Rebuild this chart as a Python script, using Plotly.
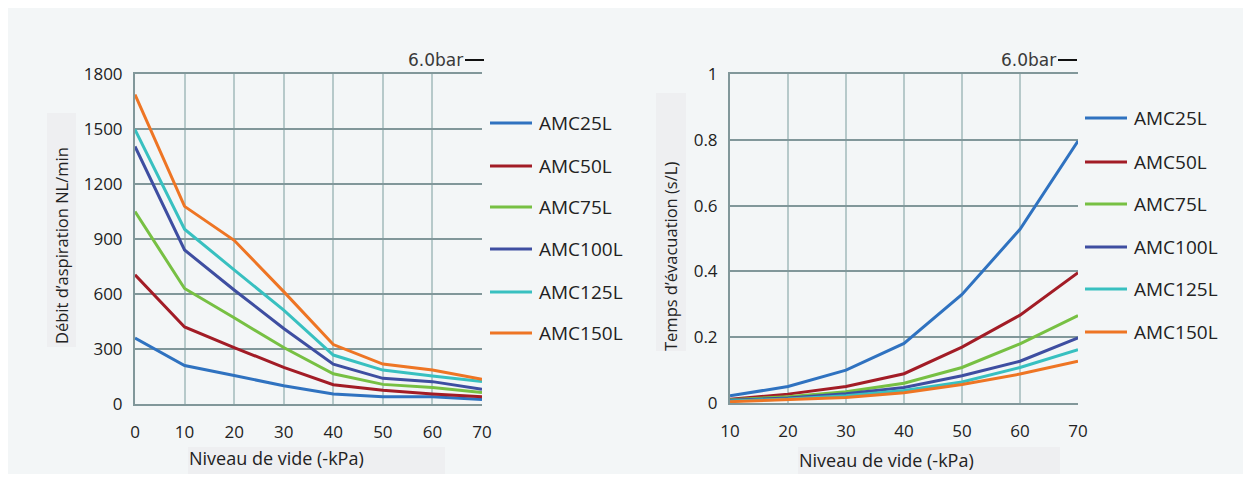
import plotly.graph_objects as go

# ---------------- data ----------------
series_names = ["AMC25L", "AMC50L", "AMC75L", "AMC100L", "AMC125L", "AMC150L"]
series_colors = ["#2f72c0", "#a21c26", "#77c043", "#3e4ea1", "#38c0c0", "#ee7524"]

vacuum_flow = [0, 10, 20, 30, 40, 50, 60, 70]
flow_amc25 = [360, 210, 155, 100, 55, 40, 40, 25]
flow_amc50 = [705, 420, 308, 200, 105, 75, 55, 40]
flow_amc75 = [1050, 630, 470, 308, 165, 107, 90, 63]
flow_amc100 = [1405, 840, 622, 412, 217, 140, 122, 80]
flow_amc125 = [1497, 953, 732, 512, 267, 185, 153, 122]
flow_amc150 = [1688, 1078, 893, 613, 324, 218, 185, 135]

vacuum_time = [10, 20, 30, 40, 50, 60, 70]
time_amc25 = [0.022, 0.05, 0.1, 0.181, 0.33, 0.528, 0.796]
time_amc50 = [0.011, 0.027, 0.05, 0.089, 0.17, 0.267, 0.396]
time_amc75 = [0.01, 0.019, 0.034, 0.06, 0.108, 0.18, 0.266]
time_amc100 = [0.008, 0.015, 0.028, 0.047, 0.083, 0.127, 0.198]
time_amc125 = [0.006, 0.012, 0.022, 0.038, 0.064, 0.108, 0.162]
time_amc150 = [0.004, 0.01, 0.017, 0.031, 0.056, 0.088, 0.127]

flow_series = [flow_amc25, flow_amc50, flow_amc75, flow_amc100, flow_amc125, flow_amc150]
time_series = [time_amc25, time_amc50, time_amc75, time_amc100, time_amc125, time_amc150]

flow_ticks = [0, 300, 600, 900, 1200, 1500, 1800]
time_ticks = [0, 0.2, 0.4, 0.6, 0.8, 1]
time_tick_labels = ["0", "0.2", "0.4", "0.6", "0.8", "1"]

# ---------------- layout helpers ----------------
# page is 1251x482; the figure sits inside the default 8px body margin
OFF = 8
W, H = 1251 - 2 * OFF, 482 - 2 * OFF
def px(x):
    return (x - OFF) / W
def py(y):
    return 1 - (y - OFF) / H

PANEL = "#f3f6f7"
HGRID = "#81979a"
VGRID = "#b6c9ca"
FONT = "Open Sans"
TXT = "#222222"

fig = go.Figure()

for name, color, vals in zip(series_names, series_colors, flow_series):
    fig.add_trace(go.Scatter(x=vacuum_flow, y=vals, mode="lines", name=name,
                             line=dict(color=color, width=3), xaxis="x", yaxis="y",
                             showlegend=False))
for name, color, vals in zip(series_names, series_colors, time_series):
    fig.add_trace(go.Scatter(x=vacuum_time, y=vals, mode="lines", name=name,
                             line=dict(color=color, width=3), xaxis="x2", yaxis="y2",
                             showlegend=False))

xcommon = dict(showgrid=True, gridcolor=VGRID, gridwidth=1.5, zeroline=False,
               showline=True, linecolor=HGRID, linewidth=2, mirror=True,
               ticks="outside", ticklen=12, tickcolor="rgba(0,0,0,0)", automargin=False,
               tickfont=dict(family=FONT, size=17, color=TXT))
ycommon = dict(showgrid=True, gridcolor=HGRID, gridwidth=2, zeroline=False,
               showline=True, linecolor=HGRID, linewidth=2, mirror=False,
               ticks="outside", ticklen=7, tickcolor="rgba(0,0,0,0)", automargin=False,
               tickfont=dict(family=FONT, size=17, color=TXT))

fig.update_layout(
    width=W, height=H, autosize=False,
    margin=dict(l=0, r=0, t=0, b=0, pad=0),
    paper_bgcolor=PANEL, plot_bgcolor=PANEL,
    showlegend=False,
    xaxis=dict(xcommon, domain=[px(135), px(482)], range=[0, 70], anchor="y", tickvals=vacuum_flow),
    yaxis=dict(ycommon, domain=[py(404), py(74)], range=[0, 1800], anchor="x", tickvals=flow_ticks),
    xaxis2=dict(xcommon, domain=[px(730), px(1078)], range=[10, 70], anchor="y2", tickvals=vacuum_time),
    yaxis2=dict(ycommon, domain=[py(403), py(74)], range=[0, 1], anchor="x2",
                tickvals=time_ticks, ticktext=time_tick_labels),
)

shapes = []
annotations = []

# white outer strips (panel ends at x=1245 and y=479)
shapes.append(dict(type="rect", xref="paper", yref="paper", layer="below",
                   x0=px(1245), x1=1.01, y0=-0.01, y1=1.01,
                   fillcolor="white", line=dict(width=0)))
shapes.append(dict(type="rect", xref="paper", yref="paper", layer="below",
                   x0=-0.01, x1=1.01, y0=-0.01, y1=py(479),
                   fillcolor="white", line=dict(width=0)))

# title background boxes
TBOX = "#eeeff1"
for (x0, x1, y0, y1) in [(47, 76, 113, 347), (188, 445, 447, 475),
                         (656, 686, 93, 351), (798, 1060, 447, 475)]:
    shapes.append(dict(type="rect", xref="paper", yref="paper", layer="below",
                       x0=px(x0), x1=px(x1), y0=py(y1), y1=py(y0),
                       fillcolor=TBOX, line=dict(width=0)))

ytitle_font = dict(family=FONT, size=16.5, color=TXT)
xtitle_font = dict(family=FONT, size=18, color=TXT)
annotations.append(dict(text="Débit d’aspiration NL/min", xref="paper", yref="paper",
                        x=px(61), y=py(246), textangle=-90, showarrow=False,
                        xanchor="center", yanchor="middle", font=ytitle_font))
annotations.append(dict(text="Niveau de vide (-kPa)", xref="paper", yref="paper",
                        x=px(187), y=py(458), showarrow=False,
                        xanchor="left", yanchor="middle", font=xtitle_font))
annotations.append(dict(text="Temps d’évacuation (s/L)", xref="paper", yref="paper",
                        x=px(670), y=py(257), textangle=-90, showarrow=False,
                        xanchor="center", yanchor="middle", font=ytitle_font))
annotations.append(dict(text="Niveau de vide (-kPa)", xref="paper", yref="paper",
                        x=px(797), y=py(460), showarrow=False,
                        xanchor="left", yanchor="middle", font=xtitle_font))

# 6.0bar labels
for tx_end, dash_x0, dash_x1 in [(465, 465, 484), (1058, 1058, 1077)]:
    annotations.append(dict(text="6.0bar", xref="paper", yref="paper",
                            x=px(tx_end), y=py(60), showarrow=False,
                            xanchor="right", yanchor="middle",
                            font=dict(family="DejaVu Sans", size=17, color="#3a3a3a")))
    shapes.append(dict(type="line", xref="paper", yref="paper",
                       x0=px(dash_x0), x1=px(dash_x1), y0=py(60), y1=py(60),
                       line=dict(color="#111111", width=2)))

# custom legends
leg_left_y = [123, 166, 207, 249, 292, 333]
leg_right_y = [118, 162, 204, 247, 289, 332]
for (lx0, lx1, tx, ys) in [(490, 532, 537, leg_left_y), (1085, 1127, 1132, leg_right_y)]:
    for name, color, y in zip(series_names, series_colors, ys):
        shapes.append(dict(type="line", xref="paper", yref="paper",
                           x0=px(lx0), x1=px(lx1), y0=py(y), y1=py(y),
                           line=dict(color=color, width=3)))
        annotations.append(dict(text=name, xref="paper", yref="paper",
                                x=px(tx), y=py(y), showarrow=False,
                                xanchor="left", yanchor="middle",
                                font=dict(family=FONT, size=19, color=TXT)))

fig.update_layout(shapes=shapes, annotations=annotations)

fig.write_html("out.html", config={"displayModeBar": False})
